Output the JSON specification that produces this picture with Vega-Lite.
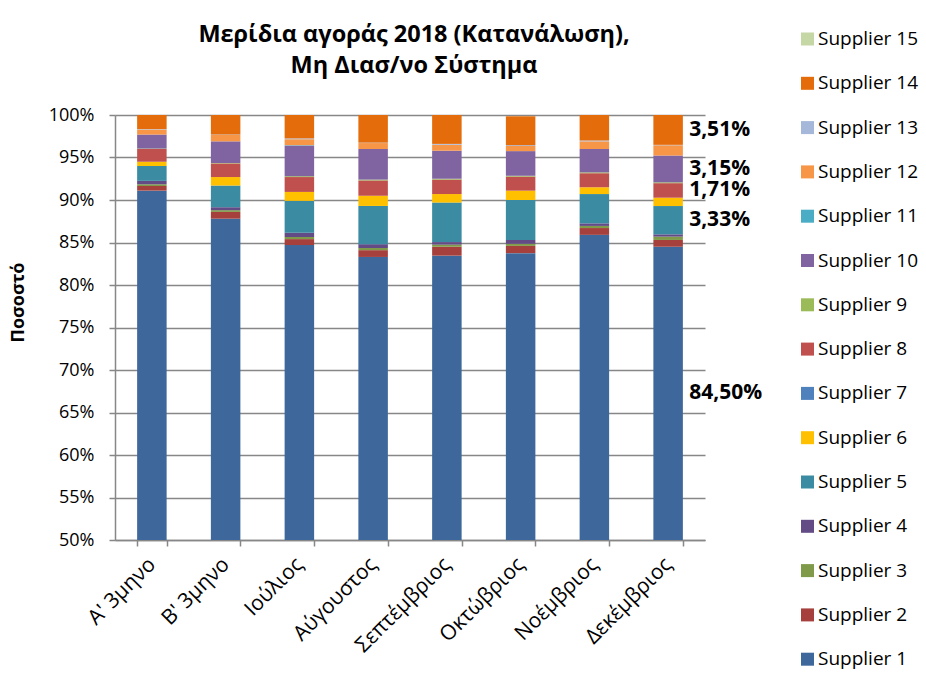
{
  "$schema": "https://vega.github.io/schema/vega-lite/v6.json",
  "width": 590,
  "height": 425,
  "autosize": {"type": "none"},
  "padding": {"left": 115, "top": 115, "right": 221, "bottom": 146},
  "background": "white",
  "config": {"font": "Open Sans", "view": {"stroke": null}},
  "title": {
    "text": ["Μερίδια αγοράς 2018 (Κατανάλωση),", "Μη Διασ/νο Σύστημα"],
    "fontSize": 23.5,
    "fontWeight": "bold",
    "color": "#000000",
    "anchor": "middle",
    "offset": 30,
    "lineHeight": 31,
    "dx": 4,
    "dy": 78
  },
  "data": {
    "values": [
      {"m": "Α' 3μηνο", "s": "Supplier 1", "n": 1, "v": 91.1},
      {"m": "Α' 3μηνο", "s": "Supplier 2", "n": 2, "v": 0.55},
      {"m": "Α' 3μηνο", "s": "Supplier 3", "n": 3, "v": 0.2},
      {"m": "Α' 3μηνο", "s": "Supplier 4", "n": 4, "v": 0.4},
      {"m": "Α' 3μηνο", "s": "Supplier 5", "n": 5, "v": 1.75},
      {"m": "Α' 3μηνο", "s": "Supplier 6", "n": 6, "v": 0.5},
      {"m": "Α' 3μηνο", "s": "Supplier 8", "n": 8, "v": 1.5},
      {"m": "Α' 3μηνο", "s": "Supplier 9", "n": 9, "v": 0.05},
      {"m": "Α' 3μηνο", "s": "Supplier 10", "n": 10, "v": 1.65},
      {"m": "Α' 3μηνο", "s": "Supplier 12", "n": 12, "v": 0.6},
      {"m": "Α' 3μηνο", "s": "Supplier 13", "n": 13, "v": 0.05},
      {"m": "Α' 3μηνο", "s": "Supplier 14", "n": 14, "v": 1.65},

      {"m": "Β' 3μηνο", "s": "Supplier 1", "n": 1, "v": 87.8},
      {"m": "Β' 3μηνο", "s": "Supplier 2", "n": 2, "v": 0.8},
      {"m": "Β' 3μηνο", "s": "Supplier 3", "n": 3, "v": 0.2},
      {"m": "Β' 3μηνο", "s": "Supplier 4", "n": 4, "v": 0.35},
      {"m": "Β' 3μηνο", "s": "Supplier 5", "n": 5, "v": 2.55},
      {"m": "Β' 3μηνο", "s": "Supplier 6", "n": 6, "v": 1.0},
      {"m": "Β' 3μηνο", "s": "Supplier 8", "n": 8, "v": 1.6},
      {"m": "Β' 3μηνο", "s": "Supplier 9", "n": 9, "v": 0.05},
      {"m": "Β' 3μηνο", "s": "Supplier 10", "n": 10, "v": 2.55},
      {"m": "Β' 3μηνο", "s": "Supplier 12", "n": 12, "v": 0.75},
      {"m": "Β' 3μηνο", "s": "Supplier 13", "n": 13, "v": 0.05},
      {"m": "Β' 3μηνο", "s": "Supplier 14", "n": 14, "v": 2.3},

      {"m": "Ιούλιος", "s": "Supplier 1", "n": 1, "v": 84.7},
      {"m": "Ιούλιος", "s": "Supplier 2", "n": 2, "v": 0.7},
      {"m": "Ιούλιος", "s": "Supplier 3", "n": 3, "v": 0.25},
      {"m": "Ιούλιος", "s": "Supplier 4", "n": 4, "v": 0.5},
      {"m": "Ιούλιος", "s": "Supplier 5", "n": 5, "v": 3.75},
      {"m": "Ιούλιος", "s": "Supplier 6", "n": 6, "v": 1.05},
      {"m": "Ιούλιος", "s": "Supplier 8", "n": 8, "v": 1.75},
      {"m": "Ιούλιος", "s": "Supplier 9", "n": 9, "v": 0.1},
      {"m": "Ιούλιος", "s": "Supplier 10", "n": 10, "v": 3.6},
      {"m": "Ιούλιος", "s": "Supplier 11", "n": 11, "v": 0.05},
      {"m": "Ιούλιος", "s": "Supplier 12", "n": 12, "v": 0.7},
      {"m": "Ιούλιος", "s": "Supplier 13", "n": 13, "v": 0.1},
      {"m": "Ιούλιος", "s": "Supplier 14", "n": 14, "v": 2.75},

      {"m": "Αύγουστος", "s": "Supplier 1", "n": 1, "v": 83.3},
      {"m": "Αύγουστος", "s": "Supplier 2", "n": 2, "v": 0.8},
      {"m": "Αύγουστος", "s": "Supplier 3", "n": 3, "v": 0.25},
      {"m": "Αύγουστος", "s": "Supplier 4", "n": 4, "v": 0.45},
      {"m": "Αύγουστος", "s": "Supplier 5", "n": 5, "v": 4.5},
      {"m": "Αύγουστος", "s": "Supplier 6", "n": 6, "v": 1.2},
      {"m": "Αύγουστος", "s": "Supplier 8", "n": 8, "v": 1.8},
      {"m": "Αύγουστος", "s": "Supplier 9", "n": 9, "v": 0.1},
      {"m": "Αύγουστος", "s": "Supplier 10", "n": 10, "v": 3.6},
      {"m": "Αύγουστος", "s": "Supplier 12", "n": 12, "v": 0.7},
      {"m": "Αύγουστος", "s": "Supplier 13", "n": 13, "v": 0.05},
      {"m": "Αύγουστος", "s": "Supplier 14", "n": 14, "v": 3.25},

      {"m": "Σεπτέμβριος", "s": "Supplier 1", "n": 1, "v": 83.45},
      {"m": "Σεπτέμβριος", "s": "Supplier 2", "n": 2, "v": 1.05},
      {"m": "Σεπτέμβριος", "s": "Supplier 3", "n": 3, "v": 0.25},
      {"m": "Σεπτέμβριος", "s": "Supplier 4", "n": 4, "v": 0.3},
      {"m": "Σεπτέμβριος", "s": "Supplier 5", "n": 5, "v": 4.65},
      {"m": "Σεπτέμβριος", "s": "Supplier 6", "n": 6, "v": 1.0},
      {"m": "Σεπτέμβριος", "s": "Supplier 8", "n": 8, "v": 1.7},
      {"m": "Σεπτέμβριος", "s": "Supplier 9", "n": 9, "v": 0.1},
      {"m": "Σεπτέμβριος", "s": "Supplier 10", "n": 10, "v": 3.3},
      {"m": "Σεπτέμβριος", "s": "Supplier 12", "n": 12, "v": 0.7},
      {"m": "Σεπτέμβριος", "s": "Supplier 13", "n": 13, "v": 0.1},
      {"m": "Σεπτέμβριος", "s": "Supplier 14", "n": 14, "v": 3.4},

      {"m": "Οκτώβριος", "s": "Supplier 1", "n": 1, "v": 83.75},
      {"m": "Οκτώβριος", "s": "Supplier 2", "n": 2, "v": 0.85},
      {"m": "Οκτώβριος", "s": "Supplier 3", "n": 3, "v": 0.25},
      {"m": "Οκτώβριος", "s": "Supplier 4", "n": 4, "v": 0.45},
      {"m": "Οκτώβριος", "s": "Supplier 5", "n": 5, "v": 4.7},
      {"m": "Οκτώβριος", "s": "Supplier 6", "n": 6, "v": 1.1},
      {"m": "Οκτώβριος", "s": "Supplier 8", "n": 8, "v": 1.65},
      {"m": "Οκτώβριος", "s": "Supplier 9", "n": 9, "v": 0.1},
      {"m": "Οκτώβριος", "s": "Supplier 10", "n": 10, "v": 2.9},
      {"m": "Οκτώβριος", "s": "Supplier 12", "n": 12, "v": 0.6},
      {"m": "Οκτώβριος", "s": "Supplier 13", "n": 13, "v": 0.1},
      {"m": "Οκτώβριος", "s": "Supplier 14", "n": 14, "v": 3.4},

      {"m": "Νοέμβριος", "s": "Supplier 1", "n": 1, "v": 85.9},
      {"m": "Νοέμβριος", "s": "Supplier 2", "n": 2, "v": 0.8},
      {"m": "Νοέμβριος", "s": "Supplier 3", "n": 3, "v": 0.25},
      {"m": "Νοέμβριος", "s": "Supplier 4", "n": 4, "v": 0.3},
      {"m": "Νοέμβριος", "s": "Supplier 5", "n": 5, "v": 3.45},
      {"m": "Νοέμβριος", "s": "Supplier 6", "n": 6, "v": 0.8},
      {"m": "Νοέμβριος", "s": "Supplier 8", "n": 8, "v": 1.65},
      {"m": "Νοέμβριος", "s": "Supplier 9", "n": 9, "v": 0.1},
      {"m": "Νοέμβριος", "s": "Supplier 10", "n": 10, "v": 2.75},
      {"m": "Νοέμβριος", "s": "Supplier 12", "n": 12, "v": 0.9},
      {"m": "Νοέμβριος", "s": "Supplier 13", "n": 13, "v": 0.1},
      {"m": "Νοέμβριος", "s": "Supplier 14", "n": 14, "v": 3.0},

      {"m": "Δεκέμβριος", "s": "Supplier 1", "n": 1, "v": 84.5},
      {"m": "Δεκέμβριος", "s": "Supplier 2", "n": 2, "v": 0.8},
      {"m": "Δεκέμβριος", "s": "Supplier 3", "n": 3, "v": 0.39},
      {"m": "Δεκέμβριος", "s": "Supplier 4", "n": 4, "v": 0.27},
      {"m": "Δεκέμβριος", "s": "Supplier 5", "n": 5, "v": 3.33},
      {"m": "Δεκέμβριος", "s": "Supplier 6", "n": 6, "v": 0.98},
      {"m": "Δεκέμβριος", "s": "Supplier 8", "n": 8, "v": 1.71},
      {"m": "Δεκέμβριος", "s": "Supplier 9", "n": 9, "v": 0.1},
      {"m": "Δεκέμβριος", "s": "Supplier 10", "n": 10, "v": 3.15},
      {"m": "Δεκέμβριος", "s": "Supplier 12", "n": 12, "v": 1.21},
      {"m": "Δεκέμβριος", "s": "Supplier 13", "n": 13, "v": 0.05},
      {"m": "Δεκέμβριος", "s": "Supplier 14", "n": 14, "v": 3.51}
    ]
  },
  "encoding": {
    "x": {
      "field": "m",
      "type": "nominal",
      "sort": ["Α' 3μηνο", "Β' 3μηνο", "Ιούλιος", "Αύγουστος", "Σεπτέμβριος", "Οκτώβριος", "Νοέμβριος", "Δεκέμβριος"],
      "scale": {"paddingInner": 0.6, "paddingOuter": 0.3},
      "axis": {
        "title": null,
        "labelAngle": -45,
        "labelAlign": "right",
        "labelBaseline": "middle",
        "labelFontSize": 21,
        "labelColor": "#000000",
        "labelPadding": 15,
        "tickBand": "extent",
        "tickSize": 6,
        "tickWidth": 1.5,
        "tickColor": "#878787",
        "domainColor": "#878787",
        "domainWidth": 1.5
      }
    }
  },
  "layer": [
    {
      "mark": {"type": "bar", "clip": true},
      "encoding": {
        "y": {
          "field": "v",
          "type": "quantitative",
          "stack": "zero",
          "scale": {"domain": [50, 100]},
          "axis": {
            "title": "Ποσοστό",
            "titleFontSize": 18,
            "titleFontWeight": "bold",
            "titleColor": "#000000",
            "titleX": -97,
            "titleY": 187,
            "titleAlign": "center",
            "titleBaseline": "middle",
            "values": [50, 55, 60, 65, 70, 75, 80, 85, 90, 95, 100],
            "labelExpr": "datum.value + '%'",
            "labelFontSize": 18,
            "labelColor": "#000000",
            "labelPadding": 15,
            "tickSize": 6,
            "tickWidth": 1.5,
            "tickColor": "#878787",
            "domainColor": "#878787",
            "domainWidth": 1.5,
            "grid": true,
            "gridColor": "#878787",
            "gridWidth": 1.5
          }
        },
        "color": {
          "field": "s",
          "type": "nominal",
          "scale": {
            "domain": ["Supplier 15", "Supplier 14", "Supplier 13", "Supplier 12", "Supplier 11", "Supplier 10", "Supplier 9", "Supplier 8", "Supplier 7", "Supplier 6", "Supplier 5", "Supplier 4", "Supplier 3", "Supplier 2", "Supplier 1"],
            "range": ["#C4D7A4", "#E46C0A", "#A5B8DA", "#F79646", "#4BACC6", "#8064A2", "#9BBB59", "#C0504D", "#4F81BD", "#FFC000", "#3B8CA3", "#634B86", "#7F9A48", "#A5403D", "#3E689B"]
          },
          "legend": {
            "orient": "none",
            "legendX": 683,
            "legendY": -85.5,
            "title": null,
            "symbolType": "square",
            "symbolSize": 169,
            "symbolStrokeWidth": 0,
            "labelFontSize": 19,
            "labelColor": "#000000",
            "labelOffset": 1,
            "rowPadding": 24.3
          }
        },
        "order": {"field": "n", "type": "quantitative", "sort": "ascending"}
      }
    },
    {
      "transform": [
        {"stack": "v", "groupby": ["m"], "sort": [{"field": "n", "order": "ascending"}], "as": ["y0", "y1"]},
        {"filter": "datum.m === 'Δεκέμβριος' && indexof([1, 5, 8, 10, 14], datum.n) >= 0"},
        {"calculate": "(max(datum.y0, 50) + datum.y1) / 2", "as": "mid"},
        {"calculate": "replace(format(datum.v, '.2f'), '.', ',') + '%'", "as": "lab"}
      ],
      "mark": {"type": "text", "align": "left", "baseline": "middle", "dx": 21, "fontSize": 21, "fontWeight": "bold", "color": "#000000"},
      "encoding": {
        "y": {"field": "mid", "type": "quantitative"},
        "text": {"field": "lab"}
      }
    }
  ]
}
